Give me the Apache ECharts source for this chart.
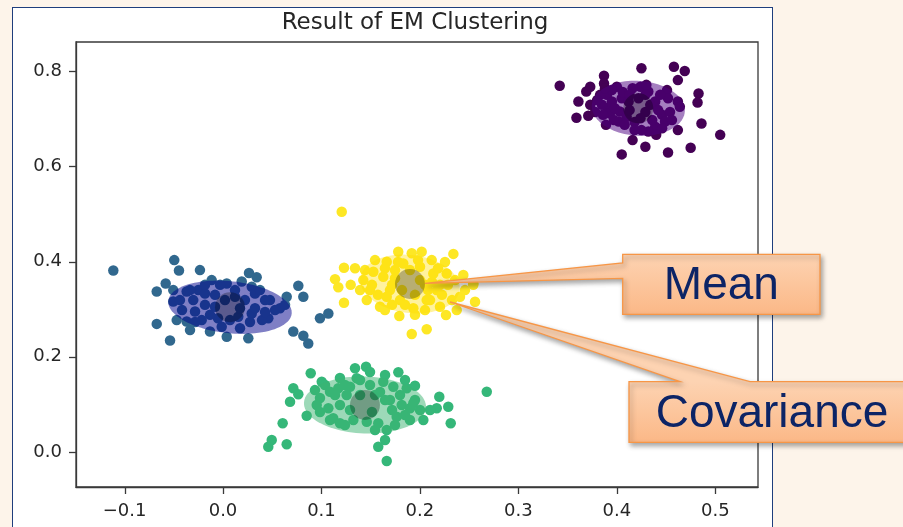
<!DOCTYPE html>
<html>
<head>
<meta charset="utf-8">
<script src="https://cdn.jsdelivr.net/npm/echarts@6/dist/echarts.min.js"></script>
<style>
  html, body { margin: 0; padding: 0; width: 903px; height: 527px; overflow: hidden; background: #FDF4EA; }
  #panel { position: absolute; left: 12px; top: 7px; width: 761px; height: 560px; background: #ffffff;
           border: 1.5px solid #1F3E7D; box-sizing: border-box; }
  #chart { position: absolute; left: 0; top: 0; width: 903px; height: 527px; }
</style>
</head>
<body>
<div id="panel"></div>
<div id="chart"></div>
<script>
// ---- cluster members (x, y) ----
const purplePoints = [
  [0.342, 0.769], [0.387, 0.790], [0.387, 0.774], [0.425, 0.806], [0.458, 0.809],
  [0.469, 0.800], [0.462, 0.781], [0.483, 0.753], [0.482, 0.734], [0.373, 0.767],
  [0.369, 0.757], [0.361, 0.736], [0.373, 0.729], [0.359, 0.702], [0.371, 0.706],
  [0.389, 0.687], [0.390, 0.750], [0.391, 0.722], [0.400, 0.767], [0.405, 0.743],
  [0.403, 0.715], [0.402, 0.694], [0.424, 0.767], [0.432, 0.757], [0.439, 0.736],
  [0.422, 0.743], [0.451, 0.760], [0.452, 0.743], [0.462, 0.736], [0.464, 0.725],
  [0.446, 0.708], [0.449, 0.694], [0.439, 0.683], [0.432, 0.673], [0.425, 0.676],
  [0.462, 0.676], [0.486, 0.690], [0.505, 0.666], [0.416, 0.655], [0.429, 0.641],
  [0.405, 0.625], [0.452, 0.629], [0.475, 0.639], [0.412, 0.736], [0.410, 0.704],
  [0.395, 0.736], [0.393, 0.711], [0.413, 0.718], [0.429, 0.714], [0.418, 0.693],
  [0.383, 0.750], [0.385, 0.729], [0.386, 0.708], [0.395, 0.760], [0.397, 0.697],
  [0.406, 0.756], [0.408, 0.687], [0.416, 0.764], [0.418, 0.676], [0.429, 0.750],
  [0.434, 0.729], [0.436, 0.697], [0.442, 0.718], [0.444, 0.750], [0.454, 0.714],
  [0.456, 0.697], [0.446, 0.680], [0.440, 0.666], [0.424, 0.701], [0.413, 0.750],
  [0.430, 0.771], [0.388, 0.764], [0.380, 0.739], [0.378, 0.714], [0.398, 0.722]
];
const bluePoints = [
  [-0.1114, 0.381], [-0.0495, 0.403], [-0.0447, 0.381], [-0.0234, 0.382], [-0.0582, 0.354],
  [-0.0673, 0.337], [-0.0505, 0.340], [-0.0369, 0.337], [-0.0251, 0.340], [-0.0115, 0.361],
  [0.0038, 0.354], [0.0190, 0.358], [0.0264, 0.376], [0.0342, 0.367], [0.0292, 0.347],
  [-0.0505, 0.316], [-0.0302, 0.319], [-0.0183, 0.333], [-0.0284, 0.295], [-0.0369, 0.274],
  [-0.0470, 0.277], [-0.0673, 0.269], [-0.0538, 0.234], [-0.0216, 0.277], [-0.0132, 0.253],
  [0.0038, 0.242], [0.0257, 0.239], [0.0155, 0.284], [0.0292, 0.291], [0.0427, 0.319],
  [0.0460, 0.281], [0.0579, 0.302], [0.0647, 0.326], [0.0765, 0.349], [0.0816, 0.326],
  [0.0985, 0.281], [0.1070, 0.291], [0.0714, 0.253], [0.0816, 0.244], [0.0866, 0.228],
  [0.0122, 0.326], [0.0325, 0.333], [-0.0081, 0.305], [-0.0013, 0.263],
  [-0.0437, 0.319], [-0.0335, 0.340], [-0.0183, 0.351], [-0.0081, 0.330], [-0.0030, 0.351],
  [0.0122, 0.340], [0.0223, 0.319], [0.0376, 0.340], [0.0477, 0.319], [0.0528, 0.298],
  [0.0396, 0.277], [0.0274, 0.273], [0.0173, 0.260], [0.0071, 0.277], [-0.0051, 0.281],
  [-0.0183, 0.309], [-0.0284, 0.273], [-0.0416, 0.298], [-0.0132, 0.288], [0.0173, 0.302],
  [0.0325, 0.302], [0.0020, 0.319], [-0.0335, 0.256], [0.0630, 0.309], [0.0427, 0.294]
];
const greenPoints = [
  [0.0891, 0.1653], [0.1003, 0.1476], [0.0714, 0.1338], [0.0765, 0.1212], [0.0681, 0.1056],
  [0.0850, 0.0762], [0.0606, 0.0603], [0.0495, 0.0252], [0.0460, 0.0111], [0.0647, 0.0162],
  [0.1341, 0.1757], [0.1453, 0.1791], [0.1358, 0.1548], [0.1290, 0.1371], [0.1171, 0.1338],
  [0.1087, 0.1266], [0.0952, 0.0987], [0.1070, 0.0918], [0.1120, 0.0708], [0.1188, 0.0603],
  [0.1324, 0.0672], [0.1460, 0.0636], [0.1577, 0.0603], [0.1663, 0.0462], [0.1646, 0.0252],
  [0.1577, 0.0111], [0.1663, -0.0189], [0.1781, 0.1674], [0.1628, 0.1476], [0.1730, 0.1371],
  [0.1866, 0.1338], [0.1950, 0.1392], [0.1696, 0.1092], [0.1815, 0.0987], [0.1764, 0.0741],
  [0.1900, 0.0918], [0.1933, 0.1023], [0.2035, 0.0672], [0.2197, 0.1161], [0.2171, 0.0918],
  [0.2288, 0.0951], [0.2313, 0.0603], [0.2679, 0.1266], [0.1188, 0.0987], [0.1256, 0.1197],
  [0.0985, 0.1134], [0.1544, 0.1197],
  [0.0934, 0.1300], [0.1036, 0.1407], [0.1138, 0.1197], [0.1239, 0.1407], [0.1392, 0.1512],
  [0.1493, 0.1407], [0.1595, 0.1260], [0.1646, 0.1092], [0.1717, 0.0882], [0.1798, 0.1197],
  [0.1849, 0.0777], [0.1950, 0.1092], [0.2001, 0.0882], [0.1899, 0.0672], [0.1747, 0.0567],
  [0.1513, 0.0840], [0.1392, 0.1197], [0.1290, 0.0882], [0.1087, 0.0672], [0.0985, 0.0840],
  [0.1239, 0.0567], [0.1646, 0.1617], [0.1493, 0.1680], [0.1188, 0.1554], [0.1849, 0.1512],
  [0.2103, 0.0882], [0.1544, 0.0462]
];
const yellowPoints = [
  [0.1206, 0.5046], [0.1229, 0.387], [0.1138, 0.363], [0.1171, 0.346], [0.1297, 0.351],
  [0.1229, 0.3135], [0.1780, 0.4206], [0.1917, 0.4172], [0.2018, 0.4206], [0.2120, 0.403],
  [0.2340, 0.416], [0.1663, 0.3996], [0.1527, 0.3786], [0.1425, 0.361], [0.1493, 0.340],
  [0.1628, 0.368], [0.1663, 0.326], [0.1798, 0.319], [0.1933, 0.302], [0.2069, 0.319],
  [0.2171, 0.340], [0.2272, 0.375], [0.2441, 0.3717], [0.2542, 0.351], [0.2407, 0.326],
  [0.2560, 0.3156], [0.2374, 0.298], [0.2265, 0.2877], [0.1791, 0.2856], [0.1917, 0.2478],
  [0.2069, 0.2576], [0.2136, 0.375], [0.2001, 0.389], [0.1831, 0.396], [0.1460, 0.319],
  [0.1595, 0.305], [0.2204, 0.305], [0.2542, 0.354], [0.1717, 0.351], [0.2052, 0.351],
  [0.1341, 0.386], [0.1747, 0.382], [0.2204, 0.351],
  [0.1442, 0.382], [0.1513, 0.351], [0.1574, 0.330], [0.1645, 0.386], [0.1696, 0.340],
  [0.1747, 0.365], [0.1778, 0.399], [0.1818, 0.340], [0.1849, 0.309], [0.1899, 0.382],
  [0.1950, 0.330], [0.1981, 0.403], [0.2001, 0.361], [0.2052, 0.298], [0.2082, 0.340],
  [0.2123, 0.357], [0.2184, 0.386], [0.2224, 0.330], [0.2285, 0.351], [0.2326, 0.319],
  [0.2255, 0.399], [0.1392, 0.340], [0.1544, 0.403], [0.1717, 0.309], [0.2103, 0.319],
  [0.2357, 0.361], [0.2458, 0.340], [0.1950, 0.288], [0.1645, 0.298]
];

// ---- fitted Gaussian components: purple, blue, green, yellow ----
const componentMeans = [[0.4218, 0.7217], [0.0071, 0.3040], [0.1442, 0.0987], [0.1899, 0.3528]];
// ellipse semi-axes (x span, y span) and tilt in degrees
const componentSpreads = [[0.0474, 0.0577], [0.0630, 0.0546], [0.0620, 0.0598], [0.0508, 0.0609]];
const componentTilts = [4, 6, 2, 7];

// ---- axis ticks ----
const xTickValues = [-0.1, 0.0, 0.1, 0.2, 0.3, 0.4, 0.5];
const xTickLabels = ['\u22120.1', '0.0', '0.1', '0.2', '0.3', '0.4', '0.5'];
const yTickValues = [0.0, 0.2, 0.4, 0.6, 0.8];
const yTickLabels = ['0.0', '0.2', '0.4', '0.6', '0.8'];

const chartTitle = 'Result of EM Clustering';
const calloutTexts = ['Mean', 'Covariance'];

// ---- styling ----
const pointColors = ['#440154', '#31688e', '#35b779', '#fde725'];
const ellipseFills = ['rgba(75,0,130,0.5)', 'rgba(0,0,139,0.5)', 'rgba(60,179,113,0.5)', 'rgba(255,220,0,0.38)'];
const spineColor = '#3a3a3a';
const labelFont = 'DejaVu Sans';
const gridBox = { left: 76, right: 145, top: 42, bottom: 40 };
const tickLen = 7;

function tickLabel(values, labels) {
  return function (v) {
    for (let i = 0; i < values.length; i++) {
      if (Math.abs(values[i] - v) < 1e-9) return labels[i];
    }
    return '';
  };
}

const chart = echarts.init(document.getElementById('chart'), null, { renderer: 'canvas' });

function pointSeries(data, color) {
  return {
    type: 'scatter', data: data, symbol: 'circle', symbolSize: 10.5, z: 2, silent: true,
    itemStyle: { color: color, opacity: 1 }
  };
}

const ellipseData = componentMeans.map((m, i) => [m[0], m[1], componentSpreads[i][0], componentSpreads[i][1], componentTilts[i]]);

chart.setOption({
  animation: false,
  backgroundColor: 'transparent',
  grid: Object.assign({ show: true, backgroundColor: '#ffffff', borderColor: spineColor, borderWidth: 1.3 }, gridBox),
  xAxis: {
    type: 'value', min: -0.1493, max: 0.5434,
    axisLine: { show: true, onZero: false, lineStyle: { color: spineColor, width: 1.3 } },
    splitLine: { show: false },
    axisTick: { show: false },
    axisLabel: {
      show: true, margin: 15, color: '#262626', fontFamily: labelFont, fontSize: 18,
      customValues: xTickValues, formatter: tickLabel(xTickValues, xTickLabels)
    }
  },
  yAxis: {
    type: 'value', min: -0.0735, max: 0.861,
    axisLine: { show: true, onZero: false, lineStyle: { color: spineColor, width: 1.3 } },
    splitLine: { show: false },
    axisTick: { show: false },
    axisLabel: {
      show: true, margin: 14, color: '#262626', fontFamily: labelFont, fontSize: 18,
      customValues: yTickValues, formatter: tickLabel(yTickValues, yTickLabels)
    }
  },
  series: [
    pointSeries(purplePoints, pointColors[0]),
    pointSeries(bluePoints, pointColors[1]),
    pointSeries(greenPoints, pointColors[2]),
    pointSeries(yellowPoints, pointColors[3]),
    {
      // covariance ellipses of the mixture components
      type: 'custom', z: 3, silent: true, data: ellipseData,
      renderItem: function (params, api) {
        const c = api.coord([api.value(0), api.value(1)]);
        const s = api.size([api.value(2), api.value(3)]);
        const t = api.value(4) * Math.PI / 180;
        const pts = [];
        for (let k = 0; k < 96; k++) {
          const a = k / 96 * Math.PI * 2;
          const ex = s[0] * Math.cos(a), ey = s[1] * Math.sin(a);
          pts.push([c[0] + ex * Math.cos(t) - ey * Math.sin(t), c[1] + ex * Math.sin(t) + ey * Math.cos(t)]);
        }
        return { type: 'polygon', shape: { points: pts }, style: { fill: ellipseFills[params.dataIndex], stroke: null } };
      }
    },
    {
      // component means
      type: 'scatter', z: 4, silent: true, data: componentMeans, symbol: 'circle', symbolSize: 30,
      itemStyle: { color: 'rgba(0,0,0,0.35)' }
    }
  ]
});

// outward tick marks placed through the axis scales
const gridBottom = 527 - gridBox.bottom;
const tickMarks = [];
xTickValues.forEach(function (v) {
  const px = Math.round(chart.convertToPixel({ xAxisIndex: 0 }, v)) + 0.5;
  tickMarks.push({
    type: 'line', z: 9, silent: true,
    shape: { x1: px, y1: gridBottom, x2: px, y2: gridBottom + tickLen },
    style: { stroke: spineColor, lineWidth: 1.3 }
  });
});
yTickValues.forEach(function (v) {
  const py = Math.round(chart.convertToPixel({ yAxisIndex: 0 }, v)) + 0.5;
  tickMarks.push({
    type: 'line', z: 9, silent: true,
    shape: { x1: gridBox.left - tickLen, y1: py, x2: gridBox.left, y2: py },
    style: { stroke: spineColor, lineWidth: 1.3 }
  });
});

// callouts pointing at the yellow component
const meanPx = chart.convertToPixel({ gridIndex: 0 }, componentMeans[3]);
const meanTip = [meanPx[0] + 15, meanPx[1] - 0.7];
const covTip = [meanPx[0] + 40, meanPx[1] + 18];

function peach(y0, y1) {
  return {
    type: 'linear', global: true, x: 0, y: y0, x2: 0, y2: y1,
    colorStops: [{ offset: 0, color: '#FDD3B2' }, { offset: 1, color: '#FBB887' }]
  };
}
const calloutStyle = {
  stroke: '#F79646', lineWidth: 1.3,
  shadowColor: 'rgba(0,0,0,0.35)', shadowBlur: 5, shadowOffsetX: 2, shadowOffsetY: 3
};

const meanBox = [622.7, 254.3, 820, 314.3];
const covBox = [629, 381.7, 916, 442.3];

chart.setOption({
  graphic: tickMarks.concat([
    {
      type: 'text', x: 415, y: 23.5, z: 10, silent: true,
      style: { text: chartTitle, font: '23px "DejaVu Sans"', fill: '#262626', textAlign: 'center', textVerticalAlign: 'middle' }
    },
    {
      type: 'polygon', z: 20, silent: true,
      shape: { points: [
        [meanBox[0], meanBox[1]], [meanBox[2], meanBox[1]], [meanBox[2], meanBox[3]], [meanBox[0], meanBox[3]],
        [meanBox[0], 278.3], meanTip, [meanBox[0], 263]
      ] },
      style: Object.assign({ fill: peach(meanBox[1], meanBox[3]) }, calloutStyle)
    },
    {
      type: 'text', z: 21, silent: true, x: (meanBox[0] + meanBox[2]) / 2, y: 286,
      style: { text: calloutTexts[0], font: '46px "Liberation Sans"', fill: '#0C2466', textAlign: 'center', textVerticalAlign: 'middle' }
    },
    {
      type: 'polygon', z: 20, silent: true,
      shape: { points: [
        [covBox[0], covBox[1]], [680, covBox[1]], covTip, [750, covBox[1]], [covBox[2], covBox[1]],
        [covBox[2], covBox[3]], [covBox[0], covBox[3]]
      ] },
      style: Object.assign({ fill: peach(covBox[1], covBox[3]) }, calloutStyle)
    },
    {
      type: 'text', z: 21, silent: true, x: 772, y: 414,
      style: { text: calloutTexts[1], font: '46px "Liberation Sans"', fill: '#0C2466', textAlign: 'center', textVerticalAlign: 'middle' }
    }
  ])
});
</script>
</body>
</html>
